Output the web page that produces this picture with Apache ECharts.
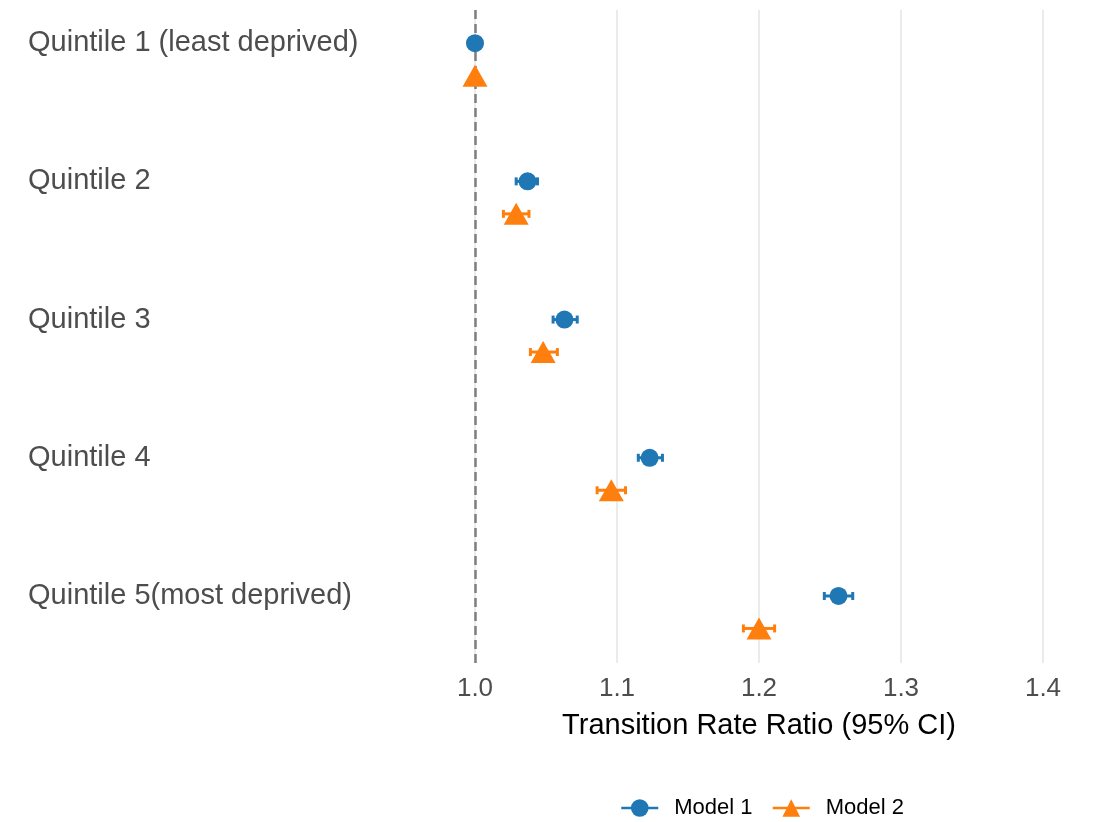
<!DOCTYPE html>
<html>
<head>
<meta charset="utf-8">
<script src="https://cdn.jsdelivr.net/npm/echarts@6/dist/echarts.min.js"></script>
<style>
  html, body { margin: 0; padding: 0; background: #fff; }
  #chart { width: 1096px; height: 822px; }
</style>
</head>
<body>
<div id="chart"></div>
<script>
const quintiles = ['Quintile 1 (least deprived)', 'Quintile 2', 'Quintile 3', 'Quintile 4', 'Quintile 5(most deprived)']
const model1Rr = [1.0, 1.037, 1.063, 1.123, 1.256]
const model1Lo = [1.0, 1.029, 1.055, 1.115, 1.246]
const model1Hi = [1.0, 1.044, 1.072, 1.132, 1.266]
const model2Rr = [1.0, 1.029, 1.048, 1.096, 1.2]
const model2Lo = [1.0, 1.020, 1.039, 1.086, 1.189]
const model2Hi = [1.0, 1.038, 1.058, 1.106, 1.211]

// model 2 sits a little below model 1 within each quintile
const dodge = 0.235
const font = "'Liberation Sans', Arial, sans-serif"
const blue = '#1f77b4'
const orange = '#ff7f0e'

const chart = echarts.init(document.getElementById('chart'))

function errorBars(color) {
    return function (params, api) {
        const lo = api.value(0), hi = api.value(1), y = api.value(2)
        if (lo === hi) return null
        const a = api.coord([lo, y])
        const b = api.coord([hi, y])
        const st = { stroke: color, lineWidth: 3 }
        return {
            type: 'group',
            children: [
                { type: 'line', shape: { x1: a[0], y1: a[1], x2: b[0], y2: b[1] }, style: st },
                { type: 'line', shape: { x1: a[0], y1: a[1] - 4, x2: a[0], y2: a[1] + 4 }, style: st },
                { type: 'line', shape: { x1: b[0], y1: b[1] - 4, x2: b[0], y2: b[1] + 4 }, style: st }
            ]
        }
    }
}

const m1Bars = quintiles.map((_, i) => [model1Lo[i], model1Hi[i], i])
const m2Bars = quintiles.map((_, i) => [model2Lo[i], model2Hi[i], i + dodge])
const m1Pts = quintiles.map((_, i) => [model1Rr[i], i])
const m2Pts = quintiles.map((_, i) => [model2Rr[i], i + dodge])

chart.setOption({
    animation: false,
    textStyle: { fontFamily: font },
    grid: { left: 475, right: 53, top: 10, bottom: 159 },
    legend: {
        top: 792,
        left: 615,
        itemWidth: 37,
        itemHeight: 22,
        itemGap: 19,
        data: ['Model 1', 'Model 2'],
        textStyle: { fontSize: 22, color: '#000', padding: [0, 0, 0, 11] },
        lineStyle: { opacity: 1, width: 2.5 }
    },
    xAxis: {
        type: 'value',
        min: 1.0,
        max: 1.4,
        interval: 0.1,
        name: 'Transition Rate Ratio (95% CI)',
        nameLocation: 'middle',
        nameGap: 48,
        nameTextStyle: { fontSize: 29, color: '#000' },
        axisLine: { show: false },
        axisTick: { show: false },
        axisLabel: {
            fontSize: 26,
            color: '#4d4d4d',
            margin: 13,
            formatter: v => v.toFixed(1)
        },
        splitLine: { show: true, lineStyle: { color: '#ebebeb', width: 2 } }
    },
    yAxis: {
        type: 'value',
        inverse: true,
        min: -0.24,
        max: 4.485,
        axisLine: { show: false },
        axisTick: { show: false },
        splitLine: { show: false },
        axisLabel: {
            customValues: [0, 1, 2, 3, 4],
            formatter: v => quintiles[Math.round(v)],
            align: 'left',
            margin: 447,
            fontSize: 29,
            color: '#4d4d4d',
            padding: [4, 0, 0, 0]
        }
    },
    series: [
        {
            type: 'line',
            silent: true,
            data: [],
            markLine: {
                silent: true,
                symbol: 'none',
                label: { show: false },
                lineStyle: { color: '#7f7f7f', type: [9, 5], width: 2.5 },
                data: [{ xAxis: 1.0 }]
            }
        },
        {
            type: 'custom',
            renderItem: errorBars(blue),
            data: m1Bars,
            encode: { x: [0, 1], y: 2 },
            clip: false,
            z: 3
        },
        {
            type: 'custom',
            renderItem: errorBars(orange),
            data: m2Bars,
            encode: { x: [0, 1], y: 2 },
            clip: false,
            z: 3
        },
        {
            name: 'Model 1',
            type: 'line',
            data: m1Pts,
            symbol: 'circle',
            symbolSize: 18,
            showAllSymbol: true,
            clip: false,
            itemStyle: { color: blue },
            lineStyle: { color: blue, opacity: 0 },
            z: 5
        },
        {
            name: 'Model 2',
            type: 'line',
            data: m2Pts,
            symbol: 'triangle',
            symbolSize: [25, 22],
            showAllSymbol: true,
            clip: false,
            itemStyle: { color: orange },
            lineStyle: { color: orange, opacity: 0 },
            z: 5
        }
    ]
})
</script>
</body>
</html>
